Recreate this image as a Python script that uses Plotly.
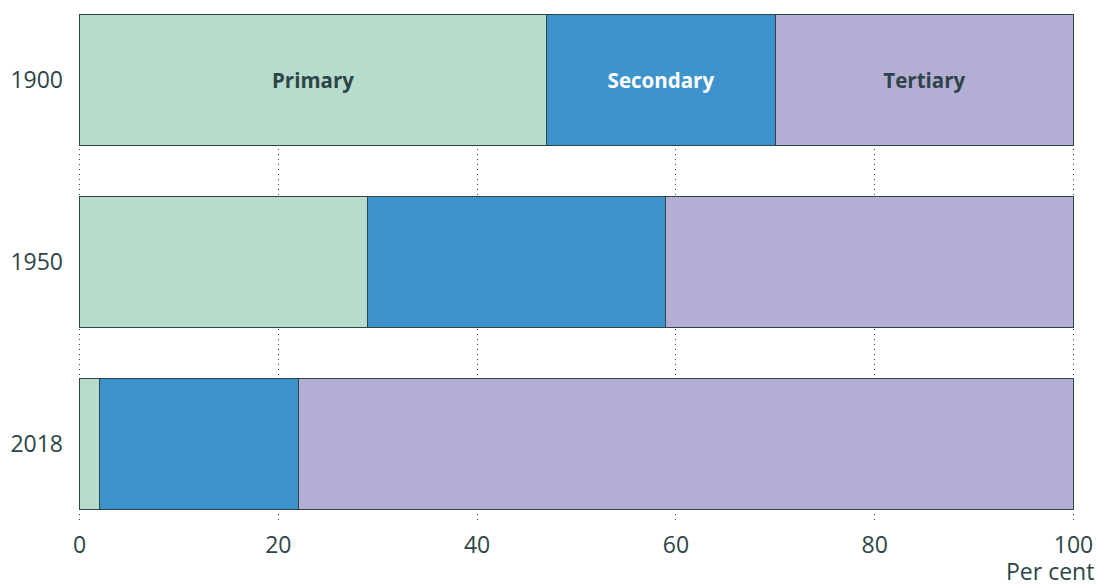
import plotly.graph_objects as go

years = ["1900", "1950", "2018"]
primary = [47, 29, 2]
secondary = [23, 30, 20]
tertiary = [30, 41, 78]
sectors = ["Primary", "Secondary", "Tertiary"]
x_ticks = [0, 20, 40, 60, 80, 100]

colors = ["#b8dccc", "#3d94cc", "#b5aed4"]
label_colors = ["#2d4548", "#ffffff", "#2d4548"]
ink = "#2d4548"

fig = go.Figure()
for name, vals, col, lcol in zip(sectors, [primary, secondary, tertiary], colors, label_colors):
    # only the first bar (1900) carries the sector name
    labels = [name] + [""] * (len(years) - 1)
    fig.add_trace(go.Bar(
        y=years, x=vals, name=name, orientation="h",
        marker=dict(color=col, line=dict(color=ink, width=1)),
        text=labels, textposition="inside", insidetextanchor="middle",
        textangle=0,
        textfont=dict(color=lcol, size=20.5, family="Open Sans", weight="bold"),
        width=0.72,
        hoverinfo="skip",
    ))

fig.update_layout(
    barmode="stack",
    showlegend=False,
    width=1100, height=587,
    margin=dict(l=78, r=25, t=14, b=67),
    paper_bgcolor="white", plot_bgcolor="white",
    font=dict(family="Open Sans", color=ink, size=23),
    xaxis=dict(
        range=[-0.15, 100.15], tickvals=x_ticks, showgrid=True,
        gridcolor=ink, griddash="1px,4px", gridwidth=1,
        zeroline=False, showline=False, ticks="",
        ticklabelstandoff=9, tickfont=dict(size=23), automargin=False,
    ),
    yaxis=dict(
        categoryorder="array", categoryarray=years,
        range=[2.42, -0.36], showgrid=False, zeroline=False,
        ticks="", ticklabelstandoff=14, tickfont=dict(size=23), automargin=False,
    ),
    annotations=[dict(
        text="Per cent", xref="paper", yref="paper", x=1.021, y=-0.100,
        xanchor="right", yanchor="middle", showarrow=False,
        font=dict(size=23, color=ink),
    )],
)

# drop the default page margin so the figure sits at the window's corner
fig.write_html("out.html", config={"displayModeBar": False},
               post_script="document.body.style.margin='0';")
